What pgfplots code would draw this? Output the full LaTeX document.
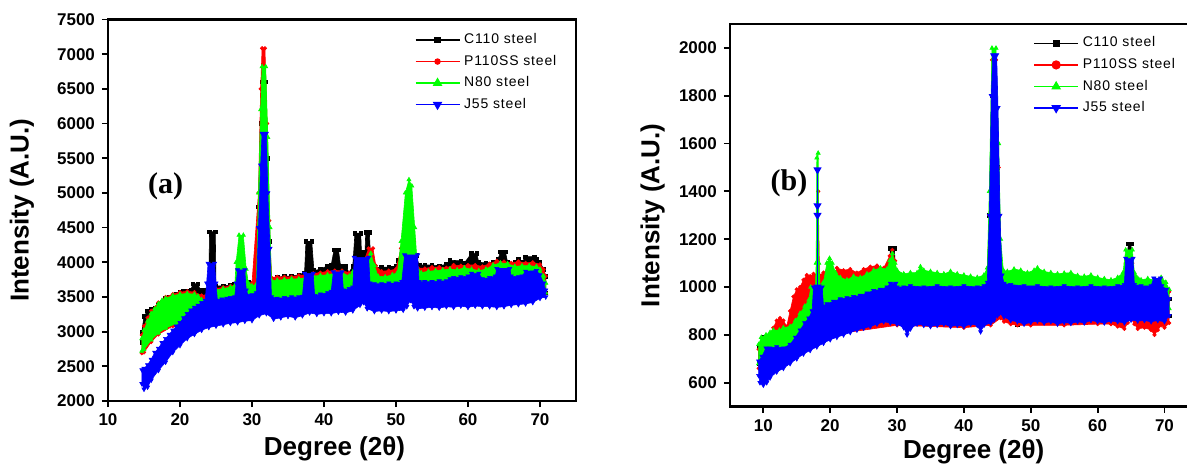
\documentclass[border=0pt]{standalone}
\usepackage{pgfplots}
\pgfplotsset{compat=1.18}
\usepackage{fontspec}
\setmainfont{Liberation Sans}
\newfontfamily\serifb{Liberation Serif}
\newfontfamily\legfont{Liberation Sans}[LetterSpace=6]
\definecolor{cR}{RGB}{255,0,0}
\definecolor{cG}{RGB}{0,255,0}
\definecolor{cB}{RGB}{0,0,255}
\pgfplotsset{
  panel/.style={
    scale only axis, width=234pt, clip mode=individual,
    axis line style={line width=1.3pt},
    tick style={line width=0.9pt, black},
    major tick length=3pt, tick align=outside, tick pos=left,
    scaled ticks=false,
    /pgf/number format/1000 sep={},
    /pgf/number format/assume math mode=true,
    tick label style={font=\bfseries\fontsize{8.5}{9}\selectfont},
    label style={font=\bfseries\fontsize{13}{14}\selectfont},
    legend style={draw=none, fill=none, font=\legfont\fontsize{7}{8}\selectfont, row sep=0.2pt, inner sep=0pt},
    legend cell align=left,
    legend image code/.code={\draw[#1,mark repeat=2,mark phase=2] plot coordinates {(0pt,0pt)(11pt,0pt)(22pt,0pt)};},
  },
  sK/.style={draw=black, fill=black, line width=0.3pt, mark=square*, mark size=0.9pt, mark options={fill=black}},
  sR/.style={draw=cR, fill=cR, line width=0.3pt, mark=*, mark size=0.9pt, mark options={fill=cR}},
  sG/.style={draw=cG, fill=cG, line width=0.3pt, mark=triangle*, mark size=1.2pt, mark options={fill=cG}},
  sB/.style={draw=cB, fill=cB, line width=0.3pt, mark=triangle*, mark size=1.2pt, mark options={fill=cB, rotate=180}},
}
\begin{document}
\begin{tikzpicture}
\useasboundingbox (0,0) rectangle (593.5pt,232.5pt);
% ---------------- panel (a)
\begin{axis}[panel, at={(54pt,32pt)}, anchor=south west, height=190.75pt,
  xmin=10, xmax=75, ymin=2000, ymax=7500,
  xtick={10,20,...,70}, ytick={2000,2500,...,7500},
  xlabel={Degree (2θ)}, ylabel={Intensity (A.U.)},
  xlabel style={at={(axis description cs:0.484,-0.126)}, anchor=center},
  ylabel style={at={(axis description cs:-0.184,0.5)}, anchor=center},
  legend style={at={(axis description cs:0.655,0.975)}, anchor=north west},
]
\addlegendimage{black, line width=0.6pt, mark=square*, mark size=1.3pt}
\addlegendentry{C110 steel}
\addlegendimage{cR, line width=0.6pt, mark=*, mark size=1.3pt}
\addlegendentry{P110SS steel}
\addlegendimage{cG, line width=0.6pt, mark=triangle*, mark size=2.2pt}
\addlegendentry{N80 steel}
\addlegendimage{cB, line width=0.6pt, mark=triangle*, mark size=2.2pt, mark options={rotate=180}}
\addlegendentry{J55 steel}
% C110
\addplot[sK, forget plot] coordinates {
(14.7,3000)(15.0,3220)(15.5,3300)(16.0,3330)(16.5,3340)(17.0,3380)(17.5,3430)(18.0,3480)(18.5,3500)(19.0,3510)
(19.5,3540)(20.0,3570)(20.5,3580)(21.0,3590)(21.5,3600)(21.8,3690)(22.5,3690)(22.8,3600)(23.5,3600)(24.0,3620)
(24.1,4440)(24.9,4440)(25.0,3660)(26.0,3660)(27.0,3670)(27.5,3680)(28.0,3700)(29.5,3720)(30.5,3720)(30.9,4800)
(31.2,6000)(31.4,6600)(31.9,6600)(32.2,5500)(32.5,4300)(32.7,3760)(33.5,3780)(34.5,3800)(35.5,3800)(36.5,3820)
(37.3,3850)(37.5,4300)(38.3,4300)(38.6,3880)(39.5,3900)(40.5,3950)(41.0,3960)(41.4,4180)(42.0,4180)(42.3,3950)
(43.0,3940)(43.5,3850)(44.0,3950)(44.3,4420)(45.1,4420)(45.2,4150)(45.7,4150)(45.8,4430)(46.3,4430)(46.5,4000)
(47.0,3930)(47.5,3900)(48.0,3930)(49.0,3930)(49.5,3910)(50.0,3940)(50.3,4030)(50.8,4030)(51.5,4500)(52.0,4600)
(52.8,4100)(53.2,3960)(54.0,3960)(55.0,3960)(56.0,3950)(57.0,3970)(57.5,4030)(59.0,4020)(59.5,3990)(60.5,4130)
(61.2,4130)(61.5,4000)(62.5,3990)(63.5,4000)(64.2,4050)(64.5,4150)(65.2,4150)(65.5,4000)(66.5,4000)(67.0,4050)
(67.5,4000)(68.0,4080)(69.2,4080)(69.5,4050)(70.0,4000)(70.5,3900)(70.8,3800)
(70.8,3560)(70,3600)(65,3600)(60,3580)(55,3540)(50,3500)(47,3500)(44,3460)(40,3420)(37,3380)(33,3350)(30,3350)
(27,3300)(25,3280)(23,3240)(21,3150)(19.5,3100)(17,3050)(15,2900)(14.7,2850)
} -- cycle;
% P110SS
\addplot[sR, forget plot] coordinates {
(14.7,2950)(15.0,3080)(15.5,3200)(16.0,3300)(17.0,3420)(18.0,3500)(19.0,3540)(20.0,3570)(21.0,3580)(22.0,3570)
(23.0,3520)(24.0,3540)(25.0,3620)(26.0,3640)(27.0,3660)(28.0,3680)(28.5,3900)(29.0,3700)(30.0,3700)(30.9,5000)
(31.2,6500)(31.4,7085)(31.8,7085)(32.1,6000)(32.4,4600)(32.7,3780)(33.5,3790)(34.5,3790)(35.5,3790)(36.5,3810)
(37.5,3820)(38.5,3840)(39.5,3850)(40.5,3870)(41.5,3880)(42.5,3880)(43.5,3850)(44.5,3900)(45.5,4000)(46.2,4200)
(46.8,4200)(47.2,3950)(48.0,3870)(49.0,3880)(50.0,3900)(50.7,4200)(51.5,4700)(52.0,4900)(52.5,4300)(53.0,3920)
(54.0,3910)(55.0,3930)(56.0,3930)(57.0,3920)(58.0,3960)(59.0,3950)(60.0,3960)(61.0,3960)(62.0,3940)(63.0,3980)
(64.0,4020)(65.0,4010)(66.0,3990)(67.0,4010)(68.0,3990)(69.0,4000)(70.0,3970)(70.5,3900)(70.8,3800)
(70.8,3560)(70,3600)(65,3600)(60,3580)(55,3540)(50,3500)(47,3500)(44,3460)(40,3420)(37,3380)(33,3350)(30,3350)
(27,3300)(25,3280)(23,3240)(21,3150)(19,3080)(17,2960)(16,2850)(15,2700)(14.7,2690)
} -- cycle;
% N80
\addplot[sG, forget plot] coordinates {
(14.7,2900)(15.0,3020)(15.5,3150)(16.0,3260)(16.5,3330)(17.0,3400)(17.5,3450)(18.0,3480)(19.0,3520)(20.0,3540)
(21.0,3550)(22.0,3540)(22.5,3510)(23.0,3460)(23.5,3440)(24.0,3480)(25.0,3600)(26.0,3620)(27.0,3640)(27.6,3660)
(27.8,4000)(28.2,4390)(28.8,4390)(29.2,3900)(29.5,3700)(30.0,3660)(30.6,3680)(30.9,5000)(31.2,6200)(31.4,6820)
(31.9,6820)(32.2,5800)(32.5,4500)(32.7,3740)(33.5,3740)(34.5,3750)(35.5,3760)(36.5,3760)(37.5,3780)(38.5,3800)
(39.5,3810)(40.5,3820)(41.5,3840)(42.5,3850)(43.5,3800)(44.0,3860)(45.0,3950)(46.0,4050)(46.5,4130)(47.0,3950)
(47.5,3800)(48.5,3790)(49.5,3820)(50.2,3850)(50.7,4300)(51.3,5000)(51.8,5190)(52.2,5100)(52.6,4500)(53.0,3900)
(53.5,3850)(54.5,3870)(55.5,3880)(56.5,3890)(57.5,3900)(58.5,3890)(59.5,3920)(60.5,3900)(61.5,3880)(62.5,3900)
(63.5,3960)(64.5,3990)(65.5,3980)(66.5,3940)(67.5,3950)(68.5,3950)(69.5,3940)(70.0,3900)(70.5,3800)(70.8,3700)
(70.8,3560)(70,3600)(65,3600)(60,3580)(55,3540)(50,3500)(47,3500)(44,3460)(40,3420)(37,3380)(33,3350)(30,3350)
(27,3300)(25,3280)(23,3240)(21,3180)(19.5,3120)(18,3050)(17,2980)(16,2880)(15,2740)(14.7,2720)
} -- cycle;
% J55
\addplot[sB, forget plot] coordinates {
(14.7,2450)(15.0,2470)(15.5,2520)(16.0,2600)(16.5,2700)(17.0,2760)(17.5,2840)(18.0,2900)(18.5,2960)(19.0,3020)
(19.5,3080)(20.0,3130)(20.5,3200)(21.0,3260)(21.5,3310)(22.0,3350)(22.5,3380)(23.0,3420)(23.5,3450)(23.7,3700)
(23.9,3985)(24.8,3985)(25.0,3700)(25.2,3450)(25.8,3470)(26.5,3480)(27.0,3490)(27.6,3500)(27.8,3700)(28.0,3890)
(29.0,3890)(29.2,3600)(29.5,3520)(30.0,3530)(30.6,3560)(30.9,4500)(31.2,5400)(31.4,5860)(32.0,5860)(32.2,5000)
(32.5,4200)(32.7,3500)(33.5,3480)(34.5,3490)(35.5,3500)(36.5,3500)(37.0,3510)(37.3,3840)(38.5,3840)(38.7,3520)
(39.5,3540)(40.5,3560)(41.0,3580)(41.3,3860)(42.5,3860)(42.7,3600)(43.5,3620)(44.0,3640)(44.2,4070)(46.2,4070)
(46.4,3700)(47.0,3690)(48.0,3690)(49.0,3700)(50.0,3700)(50.8,3720)(51.2,4105)(53.0,4105)(53.2,3720)(54.0,3720)
(55.0,3720)(56.0,3730)(57.0,3730)(57.5,3760)(58.0,3780)(59.0,3790)(60.0,3800)(60.5,3840)(61.5,3840)(62.0,3760)
(63.0,3780)(63.8,3800)(64.0,3910)(65.8,3910)(66.0,3800)(67.0,3790)(67.5,3800)(68.0,3870)(69.5,3880)(70.0,3820)
(70.5,3700)(70.8,3600)
(70.8,3500)(70.0,3480)(69.0,3420)(68.0,3400)(67.0,3390)(66.0,3380)(65.0,3360)(64.0,3350)(63.0,3360)(62.0,3360)
(61.0,3370)(60.0,3350)(59.0,3370)(58.0,3350)(57.0,3360)(56.0,3340)(55.0,3350)(54.0,3340)(53.0,3330)(52.5,3360)
(52.0,3450)(51.5,3360)(51.0,3310)(50.0,3300)(49.0,3290)(48.0,3300)(47.0,3290)(46.0,3330)(45.5,3420)(45.0,3380)
(44.0,3300)(43.0,3270)(42.0,3280)(41.0,3260)(40.0,3260)(39.0,3250)(38.0,3270)(37.0,3230)(36.0,3200)(35.0,3220)
(34.0,3200)(33.0,3180)(32.0,3260)(31.0,3230)(30.0,3160)(29.0,3150)(28.0,3130)(27.0,3120)(26.0,3100)(25.0,3080)
(24.0,3060)(23.0,3020)(22.0,2960)(21.0,2900)(20.0,2800)(19.0,2700)(18.0,2560)(17.0,2440)(16.0,2300)(15.5,2200)
(15.0,2170)(14.7,2250)
} -- cycle;
\node[font=\serifb\bfseries\fontsize{15}{16}\selectfont] at (axis cs:18,5100) {(a)};
\end{axis}
% ---------------- panel (b)
\begin{axis}[panel, at={(364.95pt,29.2pt)}, anchor=south west, height=191.3pt,
  xmin=5, xmax=75, ymin=500, ymax=2100,
  xtick={10,20,...,70}, ytick={600,800,...,2000},
  xlabel={Degree (2θ)}, ylabel={Intensity (A.U.)},
  xlabel style={at={(axis description cs:0.521,-0.119)}, anchor=center},
  ylabel style={at={(axis description cs:-0.165,0.5)}, anchor=center},
  legend style={at={(axis description cs:0.648,0.978)}, anchor=north west},
]
\addlegendimage{black, line width=0.6pt, mark=square*, mark size=1.5pt}
\addlegendentry{C110 steel}
\addlegendimage{cR, line width=0.6pt, mark=*, mark size=2pt}
\addlegendentry{P110SS steel}
\addlegendimage{cG, line width=0.6pt, mark=triangle*, mark size=2.2pt}
\addlegendentry{N80 steel}
\addlegendimage{cB, line width=0.6pt, mark=triangle*, mark size=2.2pt, mark options={rotate=180}}
\addlegendentry{J55 steel}
% C110
\addplot[sK, forget plot] coordinates {
(9.3,750)(10,790)(12,800)(14,820)(16,950)(18,1040)(20,1050)(25,1060)(28.8,1060)(29.0,1162)(29.6,1162)(29.8,1050)
(34.3,1050)(34.5,1060)(34.9,1060)(35.1,1040)(40,1040)(43.5,1040)(43.8,1300)(44.2,1800)(44.6,1800)(45,1500)(45.4,1050)
(46,1000)(64,1000)(64.6,1180)(65.0,1180)(65.3,1000)(70.7,950)
(70.7,880)(60,880)(48,845)(46,880)(44,880)(30,880)(20,820)(10,700)(9.3,680)
} -- cycle;
% P110SS
\addplot[sR, forget plot] coordinates {
(9.3,740)(10.0,780)(11.0,800)(11.5,830)(12.0,860)(12.5,870)(13.0,860)(13.5,835)(14.0,900)(14.5,960)(15.0,990)
(15.5,1000)(16.0,1030)(16.5,1050)(17.0,1045)(17.5,1055)(18.0,1050)(18.2,1400)(18.4,1050)(19.0,1060)(19.5,1065)
(20.0,1065)(20.5,1040)(21.0,1080)(22.0,1070)(23.0,1075)(24.0,1060)(25.0,1075)(26.0,1085)(27.0,1090)(28.0,1080)
(28.9,1130)(29.3,1155)(29.7,1110)(30.0,1040)(35,1030)(40,1030)(43.5,1040)(43.8,1300)(44.2,1950)(44.8,1950)(45.2,1500)
(45.6,1050)(46,1020)(55,1020)(63.8,1030)(64.2,1100)(65.2,1100)(65.5,1020)(70.7,980)
(70.7,850)(70.0,830)(69.5,840)(69.0,820)(68.5,800)(68.0,820)(67.0,830)(66.0,825)(65.5,845)(65.0,869)(64.5,850)
(64.0,825)(63.0,835)(62.0,845)(60.0,845)(55.0,840)(50.0,840)(48.0,840)(47.0,845)(46.0,855)(45.5,870)(44.0,840)
(40.0,830)(30.0,840)(20.0,800)(16.0,760)(14.0,740)(12.0,720)(10.0,680)(9.3,660)
} -- cycle;
% N80
\addplot[sG, forget plot] coordinates {
(9.3,760)(9.7,790)(10.4,800)(11.0,810)(11.5,820)(12.4,820)(13.0,830)(14.0,835)(14.8,860)(15.5,890)(16.2,920)
(16.8,946)(17.1,1000)(17.8,1002)(17.9,1100)(18.0,1540)(18.2,1560)(18.3,1100)(18.5,1000)(19.0,1020)(19.5,1100)
(19.9,1120)(20.3,1100)(20.8,1060)(21.5,1040)(22.5,1030)(23.5,1045)(24.5,1040)(25.5,1055)(26.5,1070)(27.5,1080)
(28.5,1075)(28.9,1110)(29.3,1140)(29.7,1100)(30.0,1070)(31.0,1055)(32.0,1060)(33.0,1060)(33.5,1085)(34.0,1070)
(35.0,1065)(36.0,1060)(37.0,1055)(38.0,1065)(39.0,1055)(40.0,1050)(41.0,1045)(42.0,1040)(43.0,1050)(43.5,1080)
(43.8,1400)(44.2,1999)(44.8,1999)(45.2,1600)(45.5,1200)(45.9,1070)(46.5,1065)(47.5,1075)(48.5,1070)(49.5,1060)
(50.5,1070)(51.0,1080)(52.0,1065)(53.0,1060)(54.0,1055)(55.0,1058)(56.0,1060)(57.0,1048)(58.0,1045)(59.0,1050)
(60.0,1040)(61.0,1035)(62.0,1030)(63.0,1040)(63.8,1060)(64.2,1155)(65.2,1155)(65.5,1060)(66.5,1030)(67.5,1035)
(68.5,1030)(69.5,1040)(70.2,1020)(70.7,990)
(70.7,910)(60,920)(50,920)(46,920)(44,910)(40,910)(30,910)(25,890)(20,850)(18,800)(17,790)(16,760)(15,740)
(14,730)(12,720)(11,710)(10,690)(9.3,680)
} -- cycle;
% J55
\addplot[sB, forget plot] coordinates {
(9.3,690)(9.8,710)(10.4,745)(11.0,745)(12.0,750)(13.0,745)(14.0,760)(14.8,790)(15.5,820)(16.2,850)(16.8,870)
(17.3,900)(17.5,1000)(18.8,1000)(19.0,920)(19.5,930)(20.5,940)(21.5,950)(22.5,955)(23.5,960)(24.5,965)(25.5,975)
(26.5,985)(27.5,990)(28.5,1000)(29.0,1015)(29.8,1015)(30.0,1000)(31.0,1000)(32.0,1005)(34.0,1000)(36.0,1005)
(38.0,1000)(40.0,1005)(42.0,1000)(43.0,1005)(43.5,1020)(43.8,1300)(44.1,1800)(44.3,1971)(44.9,1971)(45.1,1750)
(45.4,1300)(45.7,1050)(46.0,1015)(47.0,1010)(49.0,1005)(51.0,1005)(53.0,1000)(55.0,1005)(57.0,1000)(59.0,1005)
(61.0,1000)(63.0,1005)(64.0,1010)(64.2,1120)(65.3,1120)(65.5,1010)(66.5,1005)(68.0,1005)(68.4,1037)(69.4,1037)
(69.6,1005)(70.3,990)(70.7,950)
(70.7,880)(70.0,855)(69.0,860)(68.0,855)(67.0,860)(66.0,858)(65.0,862)(64.0,850)(63.0,855)(62.0,858)(61.0,850)
(60.0,855)(59.0,860)(58.0,850)(57.0,855)(56.0,848)(55.0,852)(54.0,845)(53.0,855)(52.0,850)(51.0,858)(50.0,852)
(49.0,845)(48.0,855)(47.0,860)(46.0,875)(45.3,890)(45.0,880)(44.5,862)(44.0,850)(43.0,840)(42.5,813)(42.0,840)
(41.0,845)(40.0,835)(39.0,840)(38.0,835)(37.0,845)(36.0,840)(35.0,835)(34.0,840)(33.0,845)(32.0,825)(31.5,800)
(31.0,830)(30.0,845)(29.0,850)(28.0,855)(27.0,845)(26.0,835)(25.0,828)(24.0,820)(23.0,810)(22.0,800)(21.0,790)
(20.0,780)(19.0,765)(18.0,750)(17.0,735)(16.0,720)(15.0,700)(14.0,680)(13.0,660)(12.0,645)(11.0,620)(10.5,600)
(10.0,590)(9.5,600)(9.3,630)
} -- cycle;
\addplot[cB, line width=0.6pt, mark=triangle*, mark size=1.8pt, mark options={rotate=180, fill=cB}, forget plot]
  coordinates {(18.1,1000)(18.1,1300)(18.1,1340)(18.1,1490)};
\node[font=\serifb\bfseries\fontsize{15}{16}\selectfont] at (axis cs:13.85,1435) {(b)};
\end{axis}
\end{tikzpicture}
\end{document}
